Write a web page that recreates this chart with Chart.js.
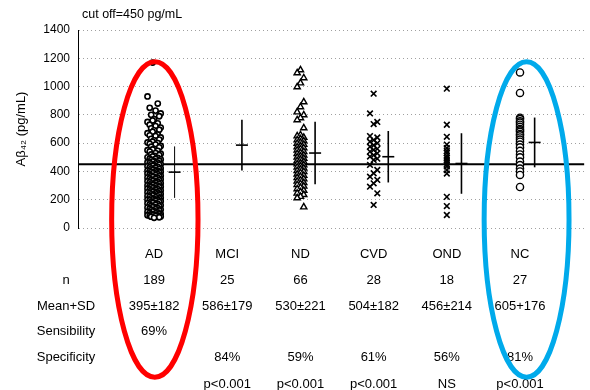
<!DOCTYPE html>
<html><head><meta charset="utf-8">
<script src="https://cdn.jsdelivr.net/npm/chart.js@4"></script>
<style>html,body{margin:0;padding:0;background:#fff}#wrap{width:590px;height:390px}</style>
</head><body><div id="wrap"><canvas id="c" width="590" height="390"></canvas></div>
<script>
const categories = ['AD', 'MCI', 'ND', 'CVD', 'OND', 'NC'];
const nLabels = ['189', '25', '66', '28', '18', '27'];
const meanValues = [395, 586, 530, 504, 456, 605];
const sdValues = [182, 179, 221, 182, 214, 176];
const meanSdLabels = ['395±182', '586±179', '530±221', '504±182', '456±214', '605+176'];
const sensibilityLabels = ['69%', '', '', '', '', ''];
const specificityLabels = ['', '84%', '59%', '61%', '56%', '81%'];
const pValueLabels = ['', 'p<0.001', 'p<0.001', 'p<0.001', 'NS', 'p<0.001'];
const rowLabels = ['n', 'Mean+SD', 'Sensibility', 'Specificity'];
const cutoffValue = 450;
const cutoffLabel = 'cut off=450 pg/mL';
const yTitle = 'Aβ₄₂ (pg/mL)';

const adValues = [1170, 930,
  880, 850, 830, 810, 800,
  790, 770, 760, 750, 740, 730, 720, 710, 705,
  695, 690, 680, 670, 660, 655, 650, 640, 630, 625, 620, 610, 605, 600,
  595, 590, 580, 575, 570, 560, 555, 550, 545, 540, 530, 525, 520, 515, 510, 505, 500,
  495, 490, 488, 485, 480, 476, 472, 470, 465, 462, 460, 455, 452, 450, 447, 444, 440, 436, 432, 430, 426, 422, 420, 416, 412, 410, 406, 404, 402, 400,
  398, 395, 392, 390, 386, 384, 380, 377, 374, 370, 368, 365, 362, 360, 356, 354, 350, 347, 344, 340, 338, 335, 332, 330, 326, 324, 320, 317, 314, 310, 308, 305, 302, 300, 297,
  295, 292, 290, 287, 284, 280, 278, 275, 272, 270, 266, 264, 260, 258, 255, 252, 250, 247, 244, 240, 238, 235, 232, 230, 226, 224, 220, 217, 214, 210, 208, 205, 202, 200, 198,
  195, 192, 190, 186, 184, 180, 177, 174, 170, 166, 164, 160, 157, 154, 150, 147, 144, 140, 136, 133, 130, 127, 124, 120, 117, 114, 110, 107, 104, 100,
  98, 96, 94, 92, 90, 88, 86, 84, 82, 80, 76, 72];
const ndValues = [1117, 1096, 1061, 1025, 997, 891, 856, 820, 799, 778, 764, 707,
  658, 650, 640, 630, 622, 615, 605, 598, 590, 580, 572, 565, 558, 550, 540, 532, 525, 515, 508, 500,
  492, 485, 476, 468, 460, 452, 445, 438, 430, 422, 415, 405, 398, 390, 380, 372, 365, 355, 346, 338,
  330, 320, 312, 305, 295, 286, 276, 265, 255, 245, 235, 222, 212, 148];
const cvdValues = [950, 810, 750, 735, 650, 640, 622, 610, 600, 585, 575, 560, 552, 540, 528, 515, 505, 490, 481, 446, 410, 387, 363, 340, 316, 292, 245, 163];
const ondValues = [985, 730, 645, 590, 565, 545, 530, 510, 495, 480, 465, 450, 435, 410, 385, 220, 155, 92];
const ncValues = [1100, 955, 780, 770, 755, 745, 730, 715, 700, 690, 680, 665, 655, 640, 625, 610, 590, 570, 545, 520, 500, 470, 445, 420, 400, 375, 290];

const FONT = "'Liberation Sans', Arial, Helvetica, sans-serif";
Chart.defaults.font.family = FONT;
Chart.defaults.color = '#000';

const X_MIN = -1.04, X_MAX = 5.88;
function spread(values, idx, offsets) {
  return values.map((v, i) => ({ x: idx + offsets[i % offsets.length], y: v }));
}

const annot = {
  id: 'annot',
  afterDatasetsDraw(chart) {
    const { ctx, scales: { x, y } } = chart;
    ctx.save();
    ctx.strokeStyle = '#000';
    meanValues.forEach((m, i) => {
      const off = i === 0 ? 0.28 : 0.2;
      const px = x.getPixelForValue(i + off);
      ctx.lineWidth = i === 0 ? 1 : 1.6;
      ctx.beginPath();
      ctx.moveTo(px, y.getPixelForValue(m + sdValues[i]));
      ctx.lineTo(px, y.getPixelForValue(m - sdValues[i]));
      ctx.stroke();
      ctx.lineWidth = 1.6;
      const py = y.getPixelForValue(m);
      ctx.beginPath();
      ctx.moveTo(px - 6, py);
      ctx.lineTo(px + 6, py);
      ctx.stroke();
    });
    ctx.restore();
  },
  afterDraw(chart) {
    const { ctx, chartArea, scales: { x, y } } = chart;
    ctx.save();
    ctx.fillStyle = '#000';
    ctx.textBaseline = 'middle';
    ctx.font = '12.5px ' + FONT;
    ctx.textAlign = 'left';
    ctx.fillText(cutoffLabel, chartArea.left + 4, 15);
    ctx.font = '13px ' + FONT;
    ctx.textAlign = 'center';
    const b = chartArea.bottom;
    const rowsY = [b + 26, b + 52, b + 78, b + 103, b + 129, b + 156];
    const labelX = 66;
    rowLabels.forEach((t, r) => ctx.fillText(t, labelX, rowsY[r + 1]));
    const rows = [categories, nLabels, meanSdLabels, sensibilityLabels, specificityLabels, pValueLabels];
    rows.forEach((row, r) => {
      row.forEach((t, i) => {
        if (t) ctx.fillText(t, x.getPixelForValue(i), rowsY[r]);
      });
    });
    // highlight ellipses
    ctx.lineWidth = 5;
    const yTop = y.getPixelForValue(1175), yBot = y.getPixelForValue(-1055);
    const cy = (yTop + yBot) / 2, ry = (yBot - yTop) / 2;
    ctx.strokeStyle = 'rgb(255,0,0)';
    ctx.beginPath();
    ctx.ellipse(x.getPixelForValue(0.01), cy, x.getPixelForValue(0.59) - x.getPixelForValue(0), ry, 0, 0, Math.PI * 2);
    ctx.stroke();
    ctx.strokeStyle = 'rgb(0,170,235)';
    ctx.beginPath();
    ctx.ellipse(x.getPixelForValue(5.09), cy, x.getPixelForValue(0.58) - x.getPixelForValue(0), ry, 0, 0, Math.PI * 2);
    ctx.stroke();
    ctx.restore();
  }
};

new Chart(document.getElementById('c'), {
  type: 'scatter',
  data: {
    datasets: [
      { label: 'cutoff', type: 'line', data: [{ x: X_MIN, y: cutoffValue }, { x: X_MAX, y: cutoffValue }],
        borderColor: '#000', borderWidth: 2, pointRadius: 0, order: 10 },
      { label: 'AD', data: spread(adValues, 0, [-0.02, -0.09, 0.05, -0.06, 0.02, 0.09, -0.04, 0.07, 0]),
        pointStyle: 'circle', radius: 2.6, borderWidth: 1.6, borderColor: '#000', backgroundColor: '#fff' },
      { label: 'ND', data: spread(ndValues, 2, [0, -0.045, 0.045]),
        pointStyle: 'triangle', radius: 3.6, borderWidth: 1.4, borderColor: '#000', backgroundColor: '#fff' },
      { label: 'CVD', data: spread(cvdValues, 3, [0, -0.05, 0.05]),
        pointStyle: 'crossRot', radius: 4, borderWidth: 1.6, borderColor: '#000', backgroundColor: '#fff' },
      { label: 'OND', data: spread(ondValues, 4, [0]),
        pointStyle: 'crossRot', radius: 4, borderWidth: 1.6, borderColor: '#000', backgroundColor: '#fff' },
      { label: 'NC', data: spread(ncValues, 5, [0]),
        pointStyle: 'circle', radius: 3.6, borderWidth: 1.4, borderColor: '#000', backgroundColor: '#fff' }
    ]
  },
  options: {
    responsive: false,
    animation: false,
    devicePixelRatio: 1,
    layout: { padding: { top: 30, bottom: 162, left: 0, right: 0 } },
    plugins: { legend: { display: false }, tooltip: { enabled: false }, title: { display: false } },
    scales: {
      x: { type: 'linear', min: X_MIN, max: X_MAX, display: false },
      y: {
        min: 0, max: 1400,
        ticks: { stepSize: 200, padding: 8, color: '#000', font: { size: 12 }, callback: (v) => String(v) },
        grid: { color: '#a0a0a0', drawTicks: false, lineWidth: 1 },
        border: { display: true, color: '#000', width: 1, dash: [1, 3] },
        title: { display: true, text: yTitle, color: '#000', font: { size: 13 }, padding: { top: 14, bottom: 4 } },
        afterFit(scale) { scale.width = 78; }
      }
    }
  },
  plugins: [annot]
});
</script>
</body></html>
